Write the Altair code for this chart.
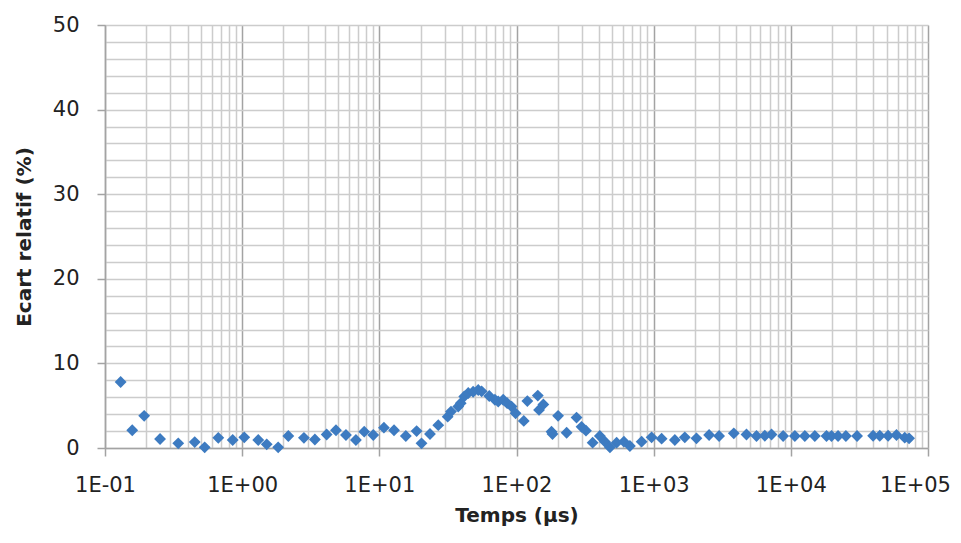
import altair as alt
import pandas as pd

# Time (µs) and relative deviation (%)
temps_us = [0.130, 0.158, 0.193, 0.252, 0.342, 0.451, 0.533, 0.670, 0.853, 1.036,
            1.31, 1.51, 1.83, 2.17, 2.82, 3.39, 4.13, 4.83, 5.71, 6.75, 7.76, 9.03,
            10.8, 12.8, 15.6, 18.7, 20.3, 23.4, 26.9, 31.5, 33.3, 37.6, 39.2, 41.6,
            44.5, 48.3, 52.6, 55.7, 63.3, 69.6, 73.6, 80.0, 85.5, 92.1, 98.5,
            113, 120, 143, 146, 157, 180, 183, 201, 232, 274, 298, 321, 359, 405,
            441, 480, 537, 607, 671, 817, 966,
            1143, 1427, 1687, 2051, 2536, 3000, 3839, 4750, 5620, 6460, 7230, 8790,
            10700, 12650, 14960, 18200, 19800, 22100, 25200, 30400, 39800, 44500,
            51200, 58900, 67700, 72800]
ecart_pct = [7.8, 2.1, 3.8, 1.06, 0.55, 0.7, 0.08, 1.2, 0.95, 1.26, 0.95, 0.43,
             0.08, 1.42, 1.2, 1.0, 1.6, 2.1, 1.54, 0.95, 1.93, 1.54,
             2.4, 2.1, 1.42, 2.0, 0.55, 1.65, 2.7, 3.7, 4.3, 4.9, 5.3, 6.1, 6.5,
             6.65, 6.86, 6.7, 6.15, 5.7, 5.5, 5.7, 5.3, 4.9, 4.1,
             3.2, 5.55, 6.2, 4.5, 5.15, 1.93, 1.65, 3.8, 1.8, 3.6, 2.5, 2.05, 0.63,
             1.42, 0.75, 0.08, 0.63, 0.75, 0.24, 0.75, 1.26,
             1.1, 0.95, 1.26, 1.14, 1.54, 1.42, 1.73, 1.6, 1.42, 1.45, 1.6, 1.42,
             1.42, 1.42, 1.42, 1.42, 1.42, 1.42, 1.42, 1.42, 1.45, 1.45, 1.45,
             1.54, 1.22, 1.14]

x_decades = [-1, 0, 1, 2, 3, 4, 5]
y_major = [0, 10, 20, 30, 40, 50]

df = pd.DataFrame({"t": temps_us, "e": ecart_pct})

x_grid = [m * 10.0 ** d for d in x_decades[:-1] for m in range(1, 10)] + [10.0 ** x_decades[-1]]
y_grid = list(range(0, 51, 2))

is_major_x = "abs(log(datum.value)/LN10 - round(log(datum.value)/LN10)) < 0.001"
exp_x = "round(log(datum.value)/LN10)"
x_label = (f"{is_major_x} ? ('1E' + ({exp_x} < 0 ? '-' : '+') + '0' + abs({exp_x})) : ''")
is_major_y = "datum.value % 10 == 0"

FONT = "DejaVu Sans"
MINOR = "#CCCCCC"
MAJOR = "#A3A3A3"

chart = alt.Chart(df).mark_point(
    shape="diamond", filled=True, size=140, color="#3D7BC1", opacity=1
).encode(
    x=alt.X("t:Q",
            scale=alt.Scale(type="log", domain=[0.1, 1e5], nice=False),
            axis=alt.Axis(values=x_grid, labelExpr=x_label, labelOverlap=False,
                          grid=True,
                          gridColor={"condition": {"test": is_major_x, "value": MAJOR}, "value": MINOR},
                          gridWidth=1.5,
                          tickColor={"condition": {"test": is_major_x, "value": MAJOR}, "value": "transparent"},
                          tickSize=8, tickWidth=1.5,
                          domainColor=MAJOR, domainWidth=1.5,
                          labelFont=FONT, labelFontSize=21, labelColor="#222222",
                          labelPadding=18, labelFlush=False,
                          labelOffset={"condition": {"test": "datum.value > 50000", "value": -13}, "value": 0},
                          title="Temps (µs)", titleFont=FONT, titleFontSize=20,
                          titleFontWeight="bold", titleColor="#222222", titlePadding=10)),
    y=alt.Y("e:Q",
            scale=alt.Scale(domain=[0, 50], nice=False),
            axis=alt.Axis(values=y_grid,
                          labelExpr=f"{is_major_y} ? datum.label : ''", labelOverlap=False,
                          grid=True, gridColor=MINOR, gridWidth=1.5,
                          tickColor={"condition": {"test": is_major_y, "value": MAJOR}, "value": "transparent"},
                          tickSize=8, tickWidth=1.5,
                          domainColor=MAJOR, domainWidth=1.5,
                          labelFont=FONT, labelFontSize=21, labelColor="#222222",
                          labelPadding=18,
                          title="Ecart relatif (%)", titleFont=FONT, titleFontSize=20,
                          titleFontWeight="bold", titleColor="#222222", titlePadding=18)),
).properties(
    width=823, height=423,
    autosize=alt.AutoSizeParams(type="none"),
    padding={"left": 97, "top": 17, "right": 24, "bottom": 80},
).configure_view(stroke=MAJOR, strokeWidth=1.5).configure(background="white")

chart.save("out.html", embed_options={"renderer": "svg", "actions": False})
